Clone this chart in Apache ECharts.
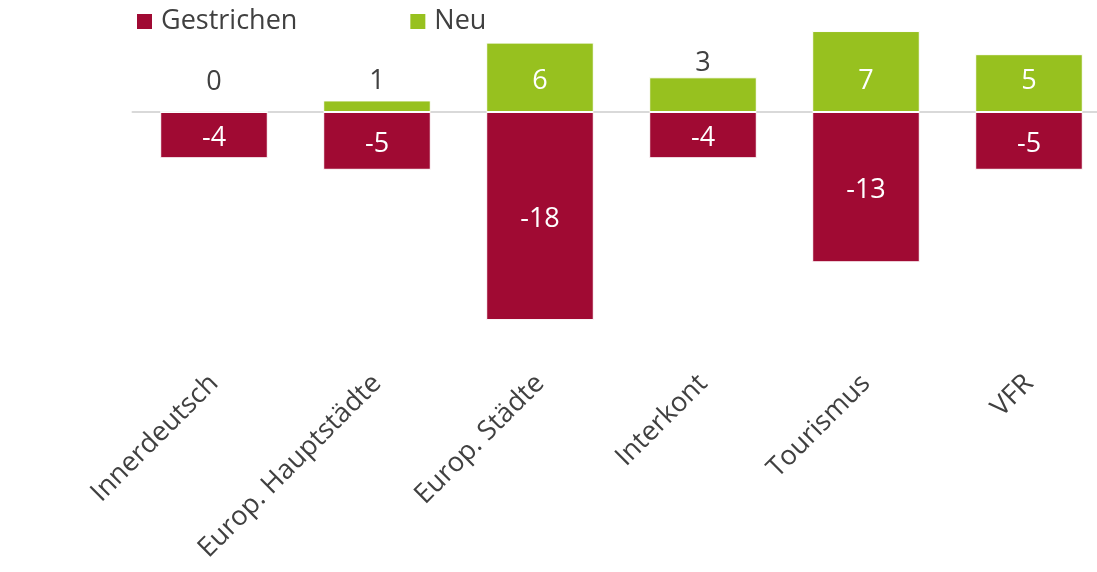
<!DOCTYPE html>
<html><head><meta charset="utf-8">
<script src="https://cdn.jsdelivr.net/npm/echarts@6/dist/echarts.min.js"></script>
<style>html,body{margin:0;padding:0;background:#fff;overflow:hidden;width:1097px;height:572px}#c{width:1130px;height:572px}</style>
</head><body><div id="c"></div>
<script>
const categories = ['Innerdeutsch', 'Europ. Hauptstädte', 'Europ. Städte', 'Interkont', 'Tourismus', 'VFR'];
const gestrichen = [-4, -5, -18, -4, -13, -5];
const neu = [0, 1, 6, 3, 7, 5];
const seriesNames = ['Gestrichen', 'Neu'];

const RED = '#A00A33', GREEN = '#97C11F', TXT = '#404040';
const FONT = '"Open Sans", "Noto Sans", sans-serif';
const FS = 27;

const neuData = neu.map(v => {
  if (v <= 1) return {value: v, label: {position: 'insideBottom', distance: 17, color: TXT}};
  if (v < 4) return {value: v, label: {position: 'top', distance: 0, color: TXT}};
  return {value: v, label: {position: 'insideBottom', distance: 17, color: '#fff'}};
});

const chart = echarts.init(document.getElementById('c'));
chart.setOption({
  animation: false,
  textStyle: {fontFamily: FONT},
  legend: {
    left: 135, top: 8, padding: 0, itemWidth: 17, itemHeight: 17, itemGap: 111, icon: 'rect',
    textStyle: {fontSize: FS, color: TXT, fontFamily: FONT, width: 143, padding: [0,0,0,3]},
    data: seriesNames
  },
  grid: {left: 132.5, width: 978, top: 19.5, height: 323.7, containLabel: false},
  xAxis: [{
    type: 'category', data: categories, position: 'bottom',
    axisLine: {show: false, onZero: false}, axisTick: {show: false},
    axisLabel: {rotate: 45, margin: 36, fontSize: FS, color: TXT, fontFamily: FONT, interval: 0}
  }, {
    type: 'category', data: categories, position: 'bottom',
    axisLine: {show: true, onZero: true, lineStyle: {color: '#d9d9d9', width: 2}},
    axisTick: {show: false}, axisLabel: {show: false}
  }],
  yAxis: {type: 'value', min: -20, max: 8, show: false, splitLine: {show: false}},
  series: [{
    name: seriesNames[0], type: 'bar', data: gestrichen, barWidth: '66%', barGap: '-100%',
    itemStyle: {color: RED, borderColor: '#fff', borderWidth: 1},
    label: {show: true, position: 'inside', color: '#fff', fontSize: FS, fontFamily: FONT, offset: [0, 3]}
  }, {
    name: seriesNames[1], type: 'bar', data: neuData, barWidth: '66%', barGap: '-100%',
    itemStyle: {color: GREEN, borderColor: '#fff', borderWidth: 1},
    label: {show: true, fontSize: FS, fontFamily: FONT}
  }]
});
</script></body></html>
